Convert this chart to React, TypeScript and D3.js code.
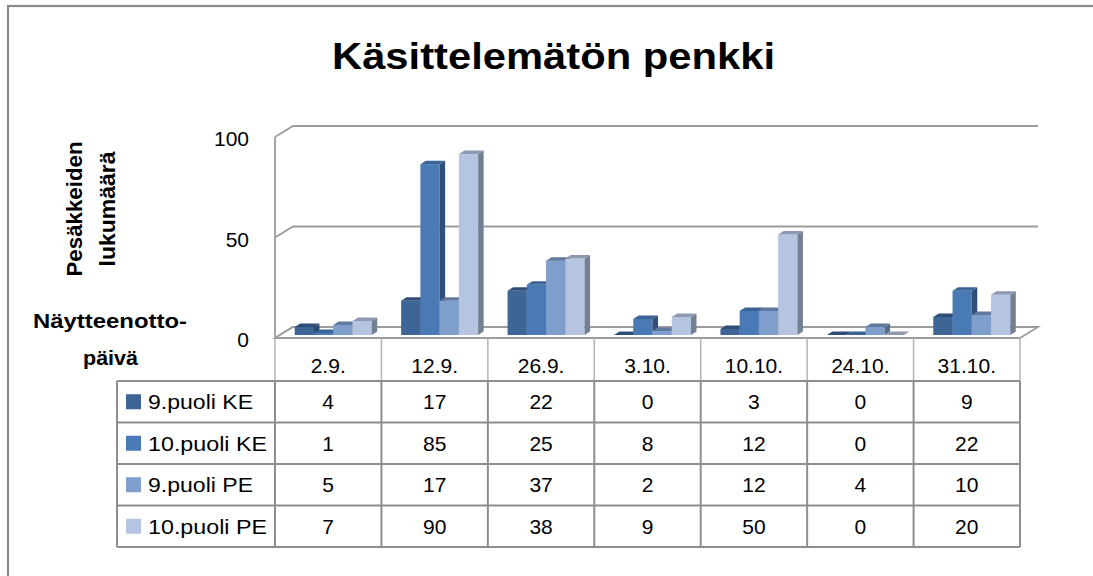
import React from "react";
import * as d3 from "d3";

const categories = ["2.9.", "12.9.", "26.9.", "3.10.", "10.10.", "24.10.", "31.10."];
const seriesNames = ["9.puoli KE", "10.puoli KE", "9.puoli PE", "10.puoli PE"];
const s1 = [4, 17, 22, 0, 3, 0, 9];
const s2 = [1, 85, 25, 8, 12, 0, 22];
const s3 = [5, 17, 37, 2, 12, 4, 10];
const s4 = [7, 90, 38, 9, 50, 0, 20];
const seriesValues = [s1, s2, s3, s4];
const yTicks = [0, 50, 100];
const title = "Käsittelemätön penkki";
const yTitle = ["Pesäkkeiden", "lukumäärä"];
const xTitle = ["Näytteenotto-", "päivä"];

const frontColors = ["#3d6595", "#4a7ab5", "#7e9ecc", "#b5c4e0"];
const topColors = ["#2d4d76", "#3a6396", "#61799f", "#8d99b0"];
const sideColors = ["#2b486e", "#2f4f79", "#566a8c", "#737f93"];

const FONT = "'Liberation Sans', Arial, sans-serif";

export default function App() {
  const W = 1093;
  const H = 576;
  const left = 275;
  const right = 1020;
  const floorY = 338;
  const depth = { dx: 18, dy: -11 };
  const barPlane = { dx: 5, dy: -3 };
  const barDepth = { dx: 5.5, dy: -3.5 };

  const x = d3.scaleBand<string>().domain(categories).range([left, right]).padding(0);
  const y = d3.scaleLinear().domain([0, 100]).range([0, 201]);
  const groupW = 77;
  const inner = d3
    .scaleBand<number>()
    .domain(d3.range(seriesNames.length))
    .range([0, groupW])
    .padding(0);
  const groupOff = (x.bandwidth() - groupW) / 2;

  const rowTop = 381;
  const rowH = 41.5;
  const legendLeft = 117;
  const tableBottom = rowTop + rowH * seriesNames.length;

  const gridColor = "#9c9c9c";
  const tableColor = "#8e8e8e";

  const baseY = floorY + barPlane.dy;

  return (
    <svg
      width={W}
      height={H}
      style={{ display: "block", position: "fixed", left: 0, top: 0 }}
      fontFamily={FONT}
    >
      <rect x={0} y={0} width={W} height={H} fill="#fff" />
      {/* outer frame */}
      <rect x={8} y={6} width={W + 20} height={H + 20} fill="none" stroke="#8a8a8a" strokeWidth={2.2} />

      {/* title */}
      <text
        x={553.5}
        y={69}
        textAnchor="middle"
        fontSize={36}
        fontWeight="bold"
        textLength={443}
        lengthAdjust="spacingAndGlyphs"
      >
        {title}
      </text>

      {/* back wall gridlines + side wall diagonals */}
      {yTicks.map((t) => {
        const yf = floorY - y(t);
        const yb = yf + depth.dy;
        return (
          <g key={t}>
            <path
              d={`M${left},${yf} L${left + depth.dx},${yb} L${right + depth.dx},${yb}`}
              fill="none"
              stroke={gridColor}
              strokeWidth={1.8}
            />
            <text x={249} y={yf + 9} textAnchor="end" fontSize={21}>
              {t}
            </text>
          </g>
        );
      })}
      {/* left wall front edge */}
      <line x1={left} x2={left} y1={floorY - y(100)} y2={floorY} stroke={gridColor} strokeWidth={1.8} />
      {/* floor */}
      <path
        d={`M${left},${floorY} L${right},${floorY} L${right + depth.dx},${floorY + depth.dy} L${left + depth.dx},${floorY + depth.dy} Z`}
        fill="#fff"
        stroke={gridColor}
        strokeWidth={1.8}
      />

      {/* bars */}
      {categories.map((c, ci) => (
        <g key={c}>
          {seriesValues.map((vals, si) => {
            const v = vals[ci];
            const h = y(v);
            const x0 = (x(c) as number) + groupOff + (inner(si) as number) + barPlane.dx;
            const w = inner.bandwidth();
            const yt = baseY - h;
            const dx = barDepth.dx;
            const dy = barDepth.dy;
            return (
              <g key={si}>
                {h > 0 && <rect x={x0} y={yt} width={w} height={h} fill={frontColors[si]} />}
                <path
                  d={`M${x0 + w},${yt} L${x0 + w},${baseY} L${x0 + w + dx},${baseY + dy} L${x0 + w + dx},${yt + dy} Z`}
                  fill={sideColors[si]}
                />
                <path
                  d={`M${x0},${yt} L${x0 + w},${yt} L${x0 + w + dx},${yt + dy} L${x0 + dx},${yt + dy} Z`}
                  fill={topColors[si]}
                />
              </g>
            );
          })}
        </g>
      ))}

      {/* y axis title */}
      {yTitle.map((s, i) => (
        <text
          key={s}
          transform={`translate(${82 + i * 33},209) rotate(-90)`}
          textAnchor="middle"
          fontSize={22}
          fontWeight="bold"
          textLength={i === 0 ? 135 : 115}
          lengthAdjust="spacingAndGlyphs"
        >
          {s}
        </text>
      ))}
      {/* x axis title */}
      <text x={33} y={328} fontSize={21} fontWeight="bold" textLength={154} lengthAdjust="spacingAndGlyphs">
        {xTitle[0]}
      </text>
      <text x={110.5} y={365} fontSize={21} fontWeight="bold" textAnchor="middle" textLength={55} lengthAdjust="spacingAndGlyphs">
        {xTitle[1]}
      </text>

      {/* table header row */}
      {categories.map((c) => (
        <text key={c} x={(x(c) as number) + x.bandwidth() / 2} y={373} textAnchor="middle" fontSize={21}>
          {c}
        </text>
      ))}
      {d3.range(categories.length + 1).map((i) => {
        const xx = left + i * x.bandwidth();
        return <line key={i} x1={xx} x2={xx} y1={floorY} y2={rowTop} stroke="#b4b4b4" strokeWidth={1.5} />;
      })}

      {/* table body */}
      {seriesNames.map((name, si) => {
        const yTop = rowTop + si * rowH;
        const yMid = yTop + rowH / 2;
        return (
          <g key={name}>
            <rect x={126} y={yMid - 7.5} width={15} height={15} fill={frontColors[si]} />
            <text
              x={148}
              y={yMid + 7.5}
              fontSize={21}
              textLength={name.length > 10 ? 119 : 105}
              lengthAdjust="spacingAndGlyphs"
            >
              {name}
            </text>
            {categories.map((c, ci) => (
              <text key={c} x={(x(c) as number) + x.bandwidth() / 2} y={yMid + 7.5} textAnchor="middle" fontSize={21}>
                {seriesValues[si][ci]}
              </text>
            ))}
          </g>
        );
      })}
      {d3.range(seriesNames.length + 1).map((i) => {
        const yy = rowTop + i * rowH;
        return <line key={i} x1={legendLeft} x2={right} y1={yy} y2={yy} stroke={tableColor} strokeWidth={2} />;
      })}
      <line x1={legendLeft} x2={legendLeft} y1={rowTop} y2={tableBottom} stroke={tableColor} strokeWidth={2} />
      {d3.range(categories.length + 1).map((i) => {
        const xx = left + i * x.bandwidth();
        return <line key={i} x1={xx} x2={xx} y1={rowTop} y2={tableBottom} stroke={tableColor} strokeWidth={2} />;
      })}
    </svg>
  );
}
